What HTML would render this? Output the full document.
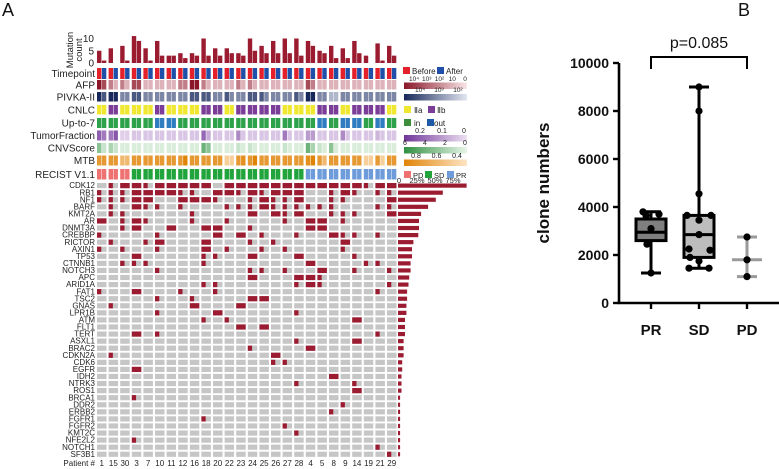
<!DOCTYPE html>
<html><head><meta charset="utf-8"><style>
html,body{margin:0;padding:0;background:#fff;}
svg{display:block;font-family:"Liberation Sans",Arial,sans-serif;}
</style></head><body>
<svg id="fig" width="779" height="469" viewBox="0 0 779 469">
<text x="2" y="16" font-size="18" fill="#111">A</text>
<text x="738" y="16" font-size="18" fill="#111">B</text>
<g id="oncoA"></g>
<g id="boxB"></g>
</svg>
<script>
// ===== Panel A data =====
const patients = ["1","15","30","3","7","10","11","12","16","18","20","22","23","24","25","26","27","28","4","5","8","9","14","19","21","29"];
const mutBefore = [5,6,7,11,6,9,3,4,4,10,6,6,4,10,7,9,10,10,9,5,7,6,9,3,8,7];
const mutAfter  = [1,0,1,9,1,3,3,2,3,3,3,4,3,5,4,4,4,3,7,4,2,2,4,0,1,3];
const afpBefore = [4,2,2,3,1,1,1,2,4,2,1,1,2,2,1,1,1,1,3,1,1,1,1,1,1,1];
const afpAfter  = [3,1,1,3,1,1,1,2,4,1,1,1,1,1,1,1,1,1,2,1,1,1,1,1,1,1];
const pivkaBefore = [4,4,2,3,2,2,2,2,3,3,2,3,2,3,3,2,2,3,4,2,1,2,2,2,2,2];
const pivkaAfter  = [3,4,2,3,2,2,2,2,3,3,2,2,2,3,2,2,2,2,4,2,1,2,2,2,2,2];
const cnlc = ["a","b","a","a","a","b","a","a","a","b","b","a","b","b","b","b","a","a","a","b","b","a","b","b","b","a"];
const upTo7 = ["in","in","in","in","in","out","out","in","in","in","in","in","in","in","in","in","in","in","in","out","in","out","out","in","out","in"];
const tfBefore = [0.15,0.12,0.02,0.03,0.03,0.03,0.03,0.03,0.03,0.14,0.03,0.03,0.1,0.03,0.03,0.03,0.12,0.03,0.08,0.03,0.03,0.1,0.03,0.03,0.05,0.03];
const tfAfter  = [0.12,0.16,0.02,0.03,0.03,0.03,0.03,0.03,0.03,0.06,0.03,0.03,0.03,0.03,0.03,0.03,0.03,0.03,0.08,0.03,0.03,0.03,0.03,0.03,0.03,0.03];
const cnvBefore = [3,2,0.5,0.5,0.5,0.5,0.5,0.5,0.5,4,0.5,0.5,1,1,0.5,0.5,1,0.5,4,1,3,0.5,0.5,0.5,0.5,0.5];
const cnvAfter  = [1,1,0.5,0.5,0.5,0.5,0.5,0.5,0.5,3,0.5,0.5,0.5,0.5,0.5,0.5,0.5,0.5,2,0.5,0.5,0.5,0.5,0.5,0.5,0.5];
const mtbBefore = [0.75,0.75,0.6,0.75,0.75,0.75,0.75,0.75,0.75,0.75,0.75,0.5,0.75,0.75,0.75,0.75,0.75,0.75,0.8,0.75,0.75,0.75,0.75,0.5,0.75,0.75];
const mtbAfter  = [0.75,0.75,0.6,0.75,0.75,0.75,0.75,0.85,0.75,0.75,0.75,0.5,0.8,0.85,0.75,0.75,0.75,0.75,0.9,0.6,0.75,0.75,0.75,0.5,0.5,0.75];
const recist = ["PD","PD","PD","SD","SD","SD","SD","SD","SD","SD","SD","SD","SD","SD","SD","SD","SD","SD","PR","PR","PR","PR","PR","PR","PR","PR"];
const genes = ["CDK12","RB1","NF1","BARF","KMT2A","AR","DNMT3A","CREBBP","RICTOR","AXIN1","TP53","CTNNB1","NOTCH3","APC","ARID1A","FAT1","TSC2","GNAS","LPR1B","ATM","FLT1","TERT","ASXL1","BRAC2","CDKN2A","CDK6","EGFR","IDH2","NTRK3","ROS1","BRCA1","DDR2","ERBB2","FGFR1","FGFR2","KMT2C","NFE2L2","NOTCH1","SF3B1"];
// 0 none, 1 before only, 2 after only, 3 both
const mutMatrix = [
"01331333330333333333333133",
"11133331103313133300131011",
"11133003331001311300110003",
"01031101000111311111100011",
"01100000100003031300111003",
"30131000100100001033010000",
"00130030033001000033000000",
"10000100003030100100311010",
"01001300030001010000030000",
"10100100030100101000010000",
"00030000011003000300001000",
"00111000010000000030000110",
"00000100000001101003001001",
"00000000000003000331000000",
"00000000011000000131000001",
"10030001001000000000000010",
"00000100100003300000000000",
"01000000300030000000000000",
"00000100003000000100000000",
"00000000010100000000003000",
"00000000000030300000000000",
"00030100000000000000000010",
"00000000000000000100003000",
"00000000000001000030000000",
"01000000000000030000000000",
"00000000000000011000000000",
"00030000000000000000000000",
"00000000000000000000300000",
"00000000000000000100001000",
"00000000000000000000003000",
"00010000000000000000000000",
"00000000000000000000010000",
"00000000000000000000100000",
"00000000010000000000000000",
"00000000000000001000000000",
"00000000000000000100000000",
"00010000000000000000000000",
"00000000000000000000000010",
"00000000000000000000000001"];
const genePct = [98,64,54,43,33,30,30,29,22,20,20,18,18,16,15,13,13,12,12,10,10,10,8,8,8,6,6,5,5,5,3,3,3,3,3,3,3,3,3];
const pctTicks = ["0","25%","50%","75%"];

// ===== Panel B data =====
const groups = ["PR","SD","PD"];
const boxMin = [1250,1450,1100];
const boxQ1 = [2600,1900,null];
const boxMed = [2950,2850,1800];
const boxQ3 = [3500,3650,null];
const boxMax = [3800,9000,2750];
const prPoints = [3800,3700,3650,3100,2450,1250];
const sdPoints = [9000,8000,4550,3650,3650,3450,2850,2250,2200,1900,1750,1450,1450];
const pdPoints = [2750,1800,1100];
const yTicks = [0,2000,4000,6000,8000,10000];
const pValue = "p=0.085";
</script>
<script>
const NS="http://www.w3.org/2000/svg";
function mk(parent,tag,attrs){const e=document.createElementNS(NS,tag);for(const k in attrs)e.setAttribute(k,attrs[k]);parent.appendChild(e);return e;}
function lerpColor(c1,c2,t){t=Math.max(0,Math.min(1,t));const a=[1,3,5].map(i=>parseInt(c1.substr(i,2),16)),b=[1,3,5].map(i=>parseInt(c2.substr(i,2),16));return "rgb("+a.map((v,i)=>Math.round(v+(b[i]-v)*t)).join(",")+")";}
const A=document.getElementById('oncoA');
const colX=i=>97+11.6*i;
const CW=9.5;
// Mutation count bars
const mcY=v=>63-v*2.45;
for(let i=0;i<patients.length;i++){
  let r=mk(A,'rect',{x:colX(i),y:mcY(mutBefore[i]),width:4.4,height:63-mcY(mutBefore[i]),fill:'#9b1b30'});
  
  
  r=mk(A,'rect',{x:colX(i)+4.9,y:mcY(mutAfter[i]),width:4.4,height:63-mcY(mutAfter[i]),fill:'#9b1b30'});
  
  
}
[[0,"0"],[5,"5"],[10,"10"]].forEach(([v,l])=>{const t=mk(A,'text',{x:94,y:mcY(v)+3.5,'font-size':10,'text-anchor':'end',fill:'#222'});t.textContent=l;
  
  });
let mt=mk(A,'text',{transform:'translate(73,50) rotate(-90)','font-size':9.5,'text-anchor':'middle',fill:'#222'});mt.textContent='Mutation';


mt=mk(A,'text',{transform:'translate(82,50) rotate(-90)','font-size':9.5,'text-anchor':'middle',fill:'#222'});mt.textContent='count';


// Annotation rows
const rows=[
 {name:'Timepoint',y:68,h:11,fn:(i,s)=>s?'#1f4fa8':'#e4202a'},
 {name:'AFP',y:80,h:9.5,fn:(i,s)=>lerpColor('#f8e6e8','#8a1628',(s?afpAfter:afpBefore)[i]/4)},
 {name:'PIVKA-II',y:92,h:9.5,fn:(i,s)=>lerpColor('#e2e6f0','#18285a',(s?pivkaAfter:pivkaBefore)[i]/4)},
 {name:'CNLC',y:105,h:9.5,fn:(i,s)=>cnlc[i]=='a'?'#f0e830':'#7b3d98'},
 {name:'Up-to-7',y:118,h:10,fn:(i,s)=>upTo7[i]=='in'?'#2ea24a':'#2f7cc0'},
 {name:'TumorFraction',y:130.5,h:10,fn:(i,s)=>lerpColor('#ecdff2','#6f3598',(s?tfAfter:tfBefore)[i]/0.2)},
 {name:'CNVScore',y:143,h:10,fn:(i,s)=>lerpColor('#e8f5e8','#2f9040',(s?cnvAfter:cnvBefore)[i]/6)},
 {name:'MTB',y:155.5,h:10,fn:(i,s)=>lerpColor('#fde4c4','#e08408',((s?mtbAfter:mtbBefore)[i]-0.4)/0.45)},
 {name:'RECIST V1.1',y:169,h:10.5,fn:(i,s)=>({PD:'#ef7272',SD:'#22a43c',PR:'#6e9cdb'})[recist[i]]}
];
rows.forEach(r=>{
  const t=mk(A,'text',{x:95,y:r.y+r.h/2+3.5,'font-size':10,'text-anchor':'end',fill:'#222'});t.textContent=r.name;
  
  
  for(let i=0;i<patients.length;i++)for(let s=0;s<2;s++){
    const c=mk(A,'rect',{x:colX(i)+s*4.9,y:r.y,width:4.4,height:r.h,fill:r.fn(i,s)});
    
    
  }
});
// Gene matrix
const geneY=g=>183+7.07*g;
genes.forEach((g,gi)=>{
  const t=mk(A,'text',{x:95,y:geneY(gi)+5.2,'font-size':8,'text-anchor':'end',fill:'#222'});t.textContent=g;
  
  
  for(let i=0;i<patients.length;i++){
    const v=+mutMatrix[gi][i];
    const c=mk(A,'rect',{x:colX(i),y:geneY(gi),width:CW,height:5.2,fill:'#c6c6c6'});
    
    
    if(v){
      const rx=v==2?colX(i)+CW/2:colX(i), rw=v==3?CW:CW*0.45;
      const m=mk(A,'rect',{x:rx,y:geneY(gi),width:rw,height:5.2,fill:'#9b1b30'});
      
      
    }
  }
  const pw=genePct[gi]*0.7;
  const b=mk(A,'rect',{x:398,y:geneY(gi)+0.5,width:pw,height:4.2,fill:'#9b1b30'});
  
  
});
pctTicks.forEach((l,k)=>{const t=mk(A,'text',{x:399+k*18,y:183,'font-size':7.5,'text-anchor':'middle',fill:'#222'});t.textContent=l;
  
  });
patients.forEach((p,i)=>{const t=mk(A,'text',{x:colX(i)+CW/2,y:466,'font-size':8,'text-anchor':'middle',fill:'#222'});t.textContent=p;
  
  });
let pl=mk(A,'text',{x:95,y:466,'font-size':8,'text-anchor':'end',fill:'#222'});pl.textContent='Patient #';


// Legends
function lgText(x,y,s,fs,anchor){const t=mk(A,'text',{x:x,y:y,'font-size':fs||8,'text-anchor':anchor||'start',fill:'#222'});t.textContent=s;
  
  return t;}
function lgRect(x,y,w,h,f){const r=mk(A,'rect',{x:x,y:y,width:w,height:h,fill:f});
  
  return r;}
function lgGrad(id,y,c1,c2){const d=mk(A,'linearGradient',{id:id});mk(d,'stop',{offset:0,'stop-color':c1});mk(d,'stop',{offset:1,'stop-color':c2});
  const r=mk(A,'rect',{x:404,y:y,width:63,height:6.5,fill:'url(#'+id+')'});
  
  }
function lgTicks(y,labels,x0,x1,fs){labels.forEach((l,k)=>lgText(x0+(x1-x0)*k/(labels.length-1),y,l,fs||7,'middle'));}
lgRect(403,67,7,7,'#e4202a');lgText(412,74,'Before',8);lgRect(437,67,7,7,'#1f4fa8');lgText(446,74,'After',8);
lgTicks(81,['10⁴','10³','10²','10','0'],414,465,6.5);
lgGrad('gAfp',82.5,'#8a1628','#f8e6e8');
lgTicks(92,['10⁴','10³','10²'],420,458,6.5);
lgGrad('gPiv',94,'#18285a','#e2e6f0');
lgRect(404,106,7,7,'#f0e830');lgText(414,113,'Ⅱa',8);lgRect(428,106,7,7,'#7b3d98');lgText(437,113,'Ⅱb',8);
lgRect(404,119,7,7,'#3c8e3c');lgText(414,126,'in',8);lgRect(427,119,7,7,'#1f5aa8');lgText(434,126,'out',8);
lgTicks(133,['0.2','0.1','0'],420,464,7);
lgGrad('gTf',135,'#6f3598','#ecdff2');
lgTicks(145,['6','4','2','0'],405,465,7);
lgGrad('gCnv',147,'#2f9040','#e8f5e8');
lgTicks(158,['0.8','0.6','0.4'],416,457,7);
lgGrad('gMtb',159.5,'#e08408','#fde4c4');
lgRect(404,171,7,7,'#ef7272');lgText(413,178,'PD',7.5);lgRect(425,171,7,7,'#22a43c');lgText(434,178,'SD',7.5);lgRect(447,171,7,7,'#6e9cdb');lgText(456,178,'PR',7.5);

// ===== Panel B =====
const B=document.getElementById('boxB');
const yB=v=>303-v*0.024;
const xB=i=>651+48*i;
const ax=mk(B,'path',{d:`M619,${yB(10000)}V${yB(0)}H779`,stroke:'#000','stroke-width':2.6,fill:'none'});


yTicks.forEach(v=>{const l=mk(B,'line',{x1:613,x2:619,y1:yB(v),y2:yB(v),stroke:'#000','stroke-width':2.4});
  
  
  const t=mk(B,'text',{x:609,y:yB(v)+5,'font-size':14,'font-weight':'bold','text-anchor':'end',fill:'#111'});t.textContent=v;
  
  });
groups.forEach((g,i)=>{const l=mk(B,'line',{x1:xB(i),x2:xB(i),y1:yB(0),y2:yB(0)+6,stroke:'#000','stroke-width':2.4});
  
  
  const t=mk(B,'text',{x:xB(i),y:335,'font-size':15,'font-weight':'bold','text-anchor':'middle',fill:'#111'});t.textContent=g;
  
  });
const yt=mk(B,'text',{transform:'translate(549,183) rotate(-90)','font-size':17,'font-weight':'bold','text-anchor':'middle',fill:'#111'});yt.textContent='clone numbers';


const fills=['#7f7f7f','#bdbdbd',null];
groups.forEach((g,i)=>{
  const x=xB(i), hw=15, col=i==2?'#9a9a9a':'#000';
  let w=mk(B,'line',{x1:x,x2:x,y1:yB(boxMax[i]),y2:yB(boxMin[i]),stroke:col,'stroke-width':3});
  
  
  [boxMin[i],boxMax[i]].forEach(v=>{const c=mk(B,'line',{x1:x-10,x2:x+10,y1:yB(v),y2:yB(v),stroke:col,'stroke-width':3});
    
    });
  if(boxQ1[i]!=null){
    const b=mk(B,'rect',{x:x-hw,y:yB(boxQ3[i]),width:2*hw,height:yB(boxQ1[i])-yB(boxQ3[i]),fill:fills[i],stroke:'#000','stroke-width':3});
    
    
  }
  const m=mk(B,'line',{x1:x-hw,x2:x+hw,y1:yB(boxMed[i]),y2:yB(boxMed[i]),stroke:col,'stroke-width':3});
  
  
});
const jitter=[[-8,8,-5,0,-4,0],[0,0,0,-12,12,0,0,-10,11,-9,0,-10,10],[0,0,0]];
[prPoints,sdPoints,pdPoints].forEach((pts,i)=>pts.forEach((v,k)=>{
  const c=mk(B,'circle',{cx:xB(i)+(jitter[i][k]||0),cy:yB(v),r:3.6,fill:'#000'});
  
  }));
const br=mk(B,'path',{d:`M${xB(0)},69V57H${xB(2)}V69`,stroke:'#000','stroke-width':2,fill:'none'});


const pv=mk(B,'text',{x:xB(1),y:48,'font-size':16,'text-anchor':'middle',fill:'#111'});pv.textContent=pValue;


</script>
</body></html>
